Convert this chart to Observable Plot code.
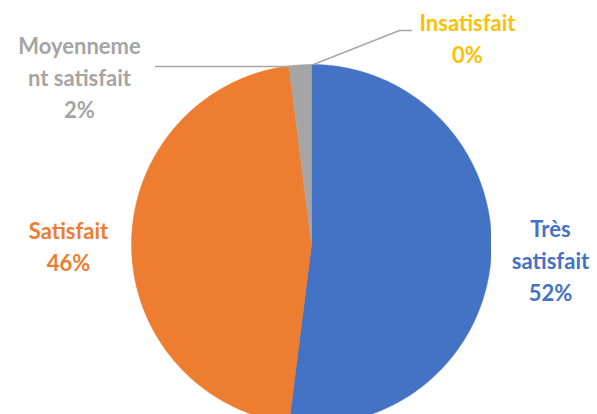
<!DOCTYPE html>
<html><head><meta charset="utf-8">
<script src="https://cdn.jsdelivr.net/npm/d3@7"></script>
<script src="https://cdn.jsdelivr.net/npm/@observablehq/plot@0.6"></script>
<style>
html,body{margin:0;padding:0;background:#fff;}
#chart svg{display:block;}
</style>
</head><body><div id="chart"></div>
<script>
const categories = ["Très satisfait", "Satisfait", "Moyennement satisfait", "Insatisfait"];
const values = [52, 46, 2, 0];
const labelTexts = ["Très\nsatisfait\n52%", "Satisfait\n46%", "Moyenneme\nnt satisfait\n2%", "Insatisfait\n0%"];
const colors = ["#4472C4", "#ED7D31", "#A5A5A5", "#FFC000"];

// layout (pixels, converted to unit coordinates)
const W = 597, H = 414, CX = 311, CY = 244, R = 180;
const toX = px => (px - CX) / R, toY = py => (CY - py) / R;
const labelPos = [[550, 258], [68, 244], [79, 75], [467, 36]];
const leaders = [
  {cat: "Moyennement satisfait", pts: [[155, 66], [306, 66]]},
  {cat: "Insatisfait", pts: [[411, 30], [399, 30], [313, 64]]}
];

const pie = d3.pie().sort(null).value(d => d.value).startAngle(0).endAngle(2 * Math.PI);
const rows = categories.map((c, i) => ({cat: c, value: values[i], label: labelTexts[i], color: colors[i]}));
const arcs = pie(rows);
const slicePts = [];
arcs.forEach(a => {
  if (a.endAngle - a.startAngle <= 0) return;
  slicePts.push({cat: a.data.cat, x: 0, y: 0, color: a.data.color});
  const n = Math.max(2, Math.ceil((a.endAngle - a.startAngle) / 0.01));
  for (let k = 0; k <= n; k++) {
    const t = a.startAngle + (a.endAngle - a.startAngle) * k / n;
    slicePts.push({cat: a.data.cat, x: Math.sin(t), y: Math.cos(t), color: a.data.color});
  }
  slicePts.push({cat: a.data.cat, x: 0, y: 0, color: a.data.color});
});
const labels = rows.map((r, i) => ({x: toX(labelPos[i][0]), y: toY(labelPos[i][1]), text: r.label, color: r.color}));
const leaderPts = leaders.flatMap(l => l.pts.map(p => ({cat: l.cat, x: toX(p[0]), y: toY(p[1])})));

const chart = Plot.plot({
  width: W, height: H,
  marginLeft: CX - R, marginRight: W - (CX + R), marginTop: CY - R, marginBottom: 0,
  x: {domain: [-1, 1], axis: null},
  y: {domain: [toY(H), 1], axis: null},
  style: {fontFamily: "Lato, 'Open Sans', sans-serif", background: "#fff", overflow: "visible"},
  marks: [
    Plot.line(slicePts, {x: "x", y: "y", z: "cat", fill: "color", stroke: "color", strokeWidth: 0.5, clip: true, curve: "linear"}),
    Plot.line(leaderPts, {x: "x", y: "y", z: "cat", stroke: "#A6A6A6", strokeWidth: 1.5, clip: false}),
    Plot.text(labels, {x: "x", y: "y", text: "text", fill: "color", fontSize: 22, fontWeight: "bold", lineHeight: 1.45, textAnchor: "middle", lineAnchor: "middle", clip: false})
  ]
});
document.getElementById("chart").appendChild(chart);
</script>
</body></html>
